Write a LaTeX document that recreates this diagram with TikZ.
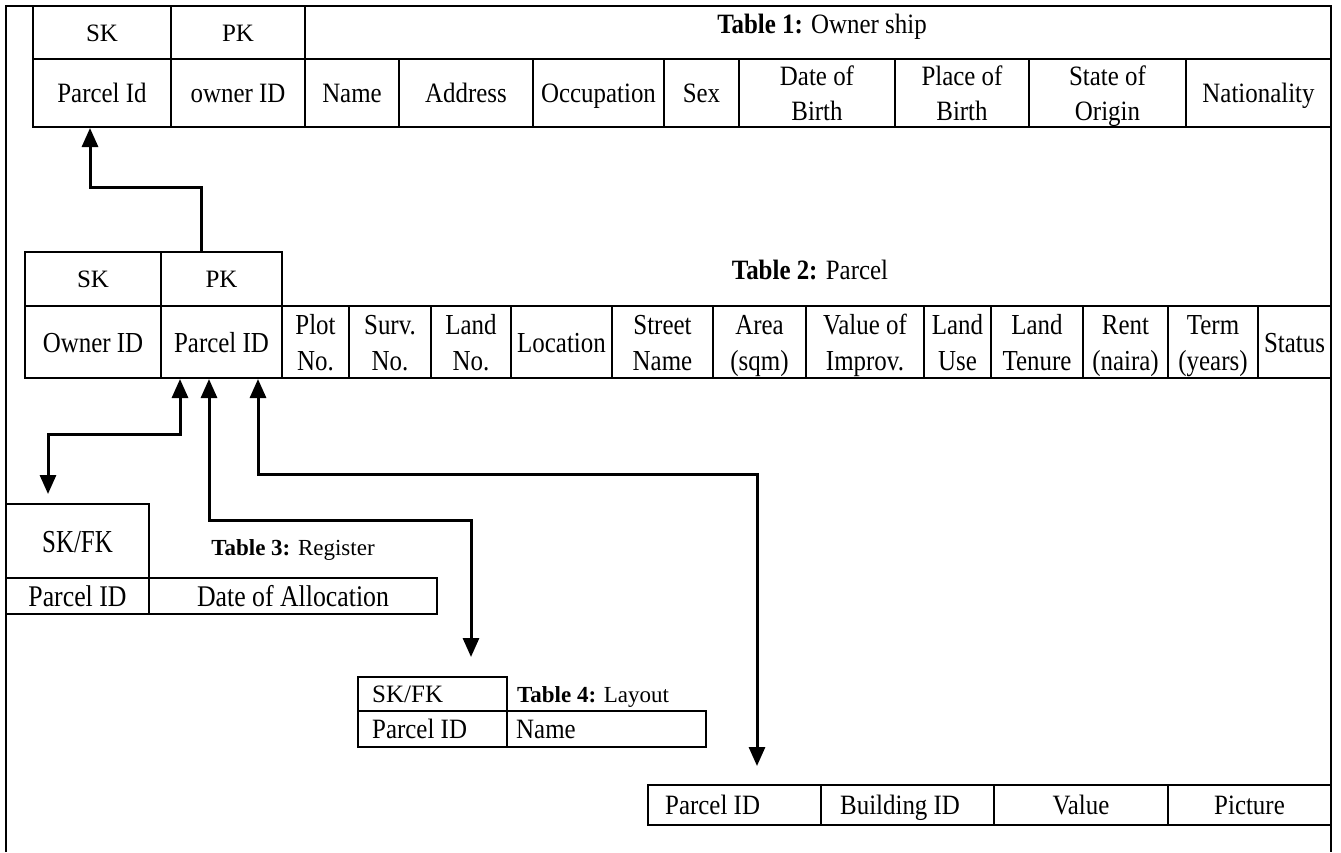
\documentclass[tikz,border=0pt]{standalone}
\usepackage{fontspec}
\setmainfont{Liberation Serif}
\newfontfamily\rmA{Liberation Serif}
\newfontfamily\rmB[FakeStretch=0.89]{Liberation Serif}
\newfontfamily\rmC[FakeStretch=0.86]{Liberation Serif}
\newfontfamily\rmD[FakeStretch=0.78]{Liberation Serif}
\usetikzlibrary{arrows.meta,calc}
\newcommand\stt{\rule[-0.25em]{0pt}{1.2em}}
\tikzset{
  cell/.style={draw, line width=2pt, inner sep=0pt, align=center},
  txt/.style={inner sep=0pt, align=center},
  frameline/.style={line width=2pt},
  tipA/.tip={Triangle[width=16pt,length=19pt]},
  linkone/.style={line width=3pt, -tipA},
  linktwo/.style={line width=3pt, tipA-tipA},
  hdf/.style={font=\rmA\fontsize{25}{30}\selectfont},
  bdf/.style={font=\rmB\fontsize{28}{32}\selectfont},
  ttf/.style={font=\rmC\fontsize{29}{36}\selectfont},
  thf/.style={font=\rmC\fontsize{30}{36}\selectfont},
  skf/.style={font=\rmD\fontsize{32}{36}\selectfont},
  ttlbig/.style={font=\rmB\fontsize{28}{32}\selectfont},
  ttlsmall/.style={font=\rmA\fontsize{23}{28}\selectfont},
}
\newcommand\tc[7][]{\node[cell,#1,minimum width={(#5-#3)*1pt},minimum height={(#6-#4)*1pt}] (#2) at ({(#3+#5)/2},{(#4+#6)/2}) {#7\stt};}
\begin{document}
\begin{tikzpicture}[x=1pt,y=-1pt]
\useasboundingbox (0,0) rectangle (1341,852);
% outer frame (open at the bottom)
\draw[frameline] (6,852) -- (6,6) -- (1331,6) -- (1331,852);

% ---------------- Table 1 ----------------
\tc[hdf]{t1sk}{33}{6}{171}{59}{SK}
\tc[hdf]{t1pk}{171}{6}{305}{59}{PK}
\tc{t1head}{305}{6}{1331}{59}{}
\node[txt,ttlbig] (t1title) at (822,24) {\textbf{Table 1:} Owner ship\stt};
\tc[bdf]{t1pid}{33}{59}{171}{127}{Parcel Id}
\tc[bdf]{t1oid}{171}{59}{305}{127}{owner ID}
\tc[bdf]{t1name}{305}{59}{399}{127}{Name}
\tc[bdf]{t1addr}{399}{59}{533}{127}{Address}
\tc[bdf]{t1occ}{533}{59}{664}{127}{Occupation}
\tc[bdf]{t1sex}{664}{59}{739}{127}{Sex}
\tc[bdf]{t1dob}{739}{59}{895}{127}{Date of\stt\\Birth}
\tc[bdf]{t1pob}{895}{59}{1029}{127}{Place of\stt\\Birth}
\tc[bdf]{t1soo}{1029}{59}{1186}{127}{State of\stt\\Origin}
\tc[bdf]{t1nat}{1186}{59}{1331}{127}{Nationality}

% ---------------- Table 2 ----------------
\tc[hdf]{t2sk}{25}{252}{161}{306}{SK}
\tc[hdf]{t2pk}{161}{252}{282}{306}{PK}
\node[txt,ttlbig] (t2title) at (810,270) {\textbf{Table 2:} Parcel\stt};
\tc[ttf]{t2oid}{25}{306}{161}{378}{Owner ID}
\tc[ttf]{t2pid}{161}{306}{282}{378}{Parcel ID}
\tc[ttf]{t2plot}{282}{306}{349}{378}{Plot\stt\\No.}
\tc[ttf]{t2surv}{349}{306}{431}{378}{Surv.\stt\\No.}
\tc[ttf]{t2land}{431}{306}{511}{378}{Land\stt\\No.}
\tc[ttf]{t2loc}{511}{306}{612}{378}{Location}
\tc[ttf]{t2str}{612}{306}{713}{378}{Street\stt\\Name}
\tc[ttf]{t2area}{713}{306}{806}{378}{Area\stt\\(sqm)}
\tc[ttf]{t2val}{806}{306}{924}{378}{Value of\stt\\Improv.}
\tc[ttf]{t2use}{924}{306}{991}{378}{Land\stt\\Use}
\tc[ttf]{t2ten}{991}{306}{1083}{378}{Land\stt\\Tenure}
\tc[ttf]{t2rent}{1083}{306}{1168}{378}{Rent\stt\\(naira)}
\tc[ttf]{t2term}{1168}{306}{1258}{378}{Term\stt\\(years)}
\tc[ttf]{t2stat}{1258}{306}{1331}{378}{Status}

% ---------------- Table 3 ----------------
\tc[skf]{t3sk}{6}{504}{149}{578}{SK/FK}
\node[txt,ttlsmall] (t3title) at (293,547) {\textbf{Table 3:} Register\stt};
\tc[thf]{t3pid}{6}{578}{149}{614}{Parcel ID}
\tc[thf]{t3date}{149}{578}{437}{614}{Date of Allocation}

% ---------------- Table 4 ----------------
\tc{t4sk}{358}{677}{507}{711}{}
\node[txt,hdf,anchor=west] (t4skt) at ([xshift=15pt]t4sk.west) {SK/FK\stt};
\node[txt,ttlsmall,anchor=west] (t4title) at (517,694) {\textbf{Table 4:} Layout\stt};
\tc{t4pid}{358}{711}{507}{747}{}
\node[txt,bdf,anchor=west] (t4pidt) at ([xshift=15pt]t4pid.west) {Parcel ID\stt};
\tc{t4name}{507}{711}{706}{747}{}
\node[txt,bdf,anchor=west] (t4namet) at ([xshift=10pt]t4name.west) {Name\stt};

% ---------------- Table 5 ----------------
\tc{t5a}{648}{785}{821}{825}{}
\node[txt,bdf,anchor=west] (t5at) at ([xshift=18pt]t5a.west) {Parcel ID\stt};
\tc{t5b}{821}{785}{994}{825}{}
\node[txt,bdf,anchor=west] (t5bt) at ([xshift=20pt]t5b.west) {Building ID\stt};
\tc[bdf]{t5c}{994}{785}{1168}{825}{Value}
\tc[bdf]{t5d}{1168}{785}{1331}{825}{Picture}

% ---------------- Connectors ----------------
\draw[linkone] ([xshift=41pt]t2pk.north west) -- ++(0,-64) -| ([xshift=58pt]t1pid.south west);
\draw[linktwo] ([xshift=20pt]t2pid.south west) -- ++(0,55) -| ([xshift=43pt,yshift=9pt]t3sk.north west);
\draw[linktwo] ([xshift=49pt]t2pid.south west) -- ++(0,141) -| ([xshift=114pt,yshift=19pt]t4sk.north west);
\draw[linktwo] ([xshift=98pt]t2pid.south west) -- ++(0,95) -| ([xshift=110pt,yshift=18pt]t5a.north west);
\end{tikzpicture}
\end{document}
